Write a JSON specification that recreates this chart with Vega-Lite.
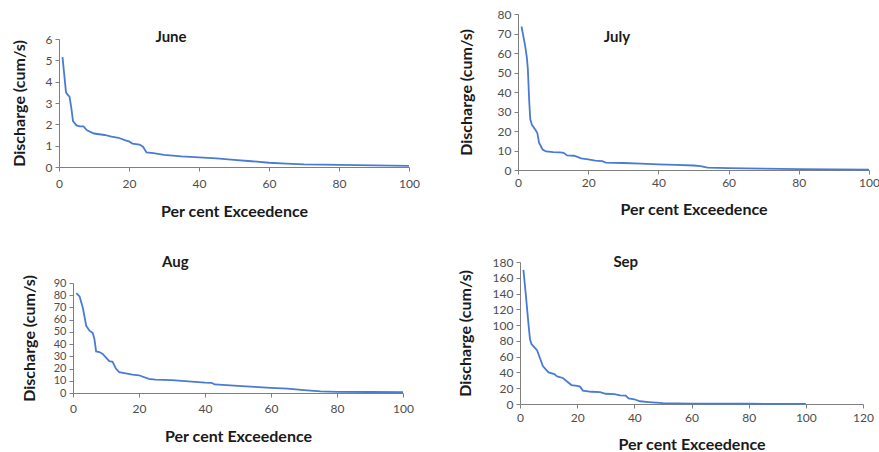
{
  "$schema": "https://vega.github.io/schema/vega-lite/v6.json",
  "padding": {"left": 11, "top": 8, "right": 0, "bottom": 0},
  "background": "white",
  "config": {
    "view": {"stroke": null},
    "font": "Lato",
    "axis": {"grid": false, "domainColor": "#7f7f7f", "tickColor": "#7f7f7f", "tickSize": 4, "labelColor": "#4d4d4d", "labelFontSize": 12, "labelFont": "Lato", "titleFont": "Lato", "titleFontSize": 16, "titleFontWeight": "bold", "titleColor": "#1a1a1a", "labelPadding": 3, "labelOverlap": false, "labelFlush": false},
    "axisX": {"titlePadding": 13},
    "axisY": {"titlePadding": 17},
    "line": {"color": "#4a7bd4", "strokeWidth": 1.8},
    "text": {"font": "Lato", "fontSize": 15, "fontWeight": "bold", "color": "#1a1a1a"}
  },
  "datasets": {
    "june": [
      {"p": 1, "q": 5.15}, {"p": 2, "q": 3.5}, {"p": 2.4, "q": 3.4}, {"p": 3, "q": 3.3}, {"p": 3.5, "q": 2.8}, {"p": 4, "q": 2.15},
      {"p": 5, "q": 1.95}, {"p": 6, "q": 1.9}, {"p": 7, "q": 1.9}, {"p": 8, "q": 1.72}, {"p": 10, "q": 1.57},
      {"p": 13, "q": 1.5}, {"p": 15, "q": 1.42}, {"p": 17, "q": 1.37}, {"p": 19, "q": 1.25}, {"p": 20, "q": 1.2},
      {"p": 21, "q": 1.1}, {"p": 23, "q": 1.05}, {"p": 24, "q": 0.95}, {"p": 25, "q": 0.68}, {"p": 27, "q": 0.65},
      {"p": 30, "q": 0.57}, {"p": 35, "q": 0.5}, {"p": 40, "q": 0.45}, {"p": 45, "q": 0.4}, {"p": 50, "q": 0.33},
      {"p": 55, "q": 0.27}, {"p": 60, "q": 0.2}, {"p": 65, "q": 0.16}, {"p": 70, "q": 0.12}, {"p": 80, "q": 0.1},
      {"p": 90, "q": 0.08}, {"p": 100, "q": 0.05}
    ],
    "july": [
      {"p": 1, "q": 73.6}, {"p": 2, "q": 64}, {"p": 2.5, "q": 58}, {"p": 2.8, "q": 52}, {"p": 3.2, "q": 35}, {"p": 3.5, "q": 26},
      {"p": 4, "q": 23}, {"p": 5, "q": 20.5}, {"p": 5.5, "q": 19}, {"p": 6, "q": 14}, {"p": 7, "q": 10.5},
      {"p": 8, "q": 9.5}, {"p": 10, "q": 9.2}, {"p": 12, "q": 9.0}, {"p": 13, "q": 8.8}, {"p": 14, "q": 7.5},
      {"p": 16, "q": 7.3}, {"p": 18, "q": 6}, {"p": 20, "q": 5.5}, {"p": 22, "q": 4.8}, {"p": 24, "q": 4.5},
      {"p": 25, "q": 3.8}, {"p": 30, "q": 3.6}, {"p": 35, "q": 3.3}, {"p": 40, "q": 2.9}, {"p": 45, "q": 2.6},
      {"p": 50, "q": 2.3}, {"p": 52, "q": 2.0}, {"p": 54, "q": 1.2}, {"p": 60, "q": 1.0}, {"p": 70, "q": 0.7},
      {"p": 80, "q": 0.5}, {"p": 90, "q": 0.3}, {"p": 100, "q": 0.2}
    ],
    "aug": [
      {"p": 1, "q": 81.8}, {"p": 2, "q": 79}, {"p": 3, "q": 69.5}, {"p": 4, "q": 55}, {"p": 5, "q": 51},
      {"p": 6, "q": 49}, {"p": 6.5, "q": 44}, {"p": 7, "q": 34}, {"p": 8, "q": 33.5}, {"p": 9, "q": 32},
      {"p": 10, "q": 29}, {"p": 11, "q": 26}, {"p": 12, "q": 25.5}, {"p": 13, "q": 20}, {"p": 14, "q": 17},
      {"p": 16, "q": 16}, {"p": 18, "q": 15}, {"p": 20, "q": 14.5}, {"p": 21, "q": 13.5}, {"p": 23, "q": 11.5},
      {"p": 25, "q": 11}, {"p": 30, "q": 10.5}, {"p": 35, "q": 9.5}, {"p": 40, "q": 8.5}, {"p": 42, "q": 8.3},
      {"p": 43, "q": 7}, {"p": 50, "q": 5.8}, {"p": 55, "q": 5}, {"p": 60, "q": 4.2}, {"p": 65, "q": 3.5},
      {"p": 70, "q": 2.3}, {"p": 75, "q": 1.3}, {"p": 80, "q": 1.0}, {"p": 90, "q": 0.8}, {"p": 100, "q": 0.6}
    ],
    "sep": [
      {"p": 1.2, "q": 170}, {"p": 2, "q": 140}, {"p": 3, "q": 100}, {"p": 3.5, "q": 82}, {"p": 4, "q": 76},
      {"p": 5, "q": 72}, {"p": 6, "q": 68}, {"p": 7, "q": 58}, {"p": 8, "q": 48}, {"p": 9, "q": 44},
      {"p": 10, "q": 40}, {"p": 12, "q": 38}, {"p": 13, "q": 35}, {"p": 15, "q": 33}, {"p": 17, "q": 27},
      {"p": 18, "q": 24}, {"p": 20, "q": 23}, {"p": 21, "q": 22}, {"p": 22, "q": 17}, {"p": 25, "q": 15.5},
      {"p": 28, "q": 15}, {"p": 30, "q": 13}, {"p": 33, "q": 12.5}, {"p": 35, "q": 11}, {"p": 37, "q": 10.5},
      {"p": 38, "q": 7}, {"p": 40, "q": 6}, {"p": 42, "q": 3.5}, {"p": 45, "q": 2.5}, {"p": 50, "q": 1.0},
      {"p": 60, "q": 0.5}, {"p": 80, "q": 0.3}, {"p": 100, "q": 0.2}
    ]
  },
  "spacing": 36,
  "vconcat": [
    {
      "spacing": 38,
      "hconcat": [
        {
          "width": 350, "height": 153,
          "layer": [
            {
              "data": {"name": "june"},
              "mark": "line",
              "encoding": {
                "x": {"field": "p", "type": "quantitative", "scale": {"domain": [0, 100], "nice": false}, "axis": {"values": [0, 20, 40, 60, 80, 100], "title": "Per cent Exceedence", "titlePadding": 14, "labelPadding": 7}},
                "y": {"field": "q", "type": "quantitative", "scale": {"domain": [0, 6], "nice": false, "range": [153, 25]}, "axis": {"values": [0, 1, 2, 3, 4, 5, 6], "title": "Discharge (cum/s)", "titlePadding": 18}}
              }
            },
            {
              "data": {"values": [{}]},
              "mark": {"type": "text", "baseline": "middle", "align": "center"},
              "encoding": {
                "x": {"datum": 32, "type": "quantitative", "axis": {"values": [0, 20, 40, 60, 80, 100], "title": "Per cent Exceedence", "titlePadding": 14, "labelPadding": 7}},
                "y": {"datum": 6.1, "type": "quantitative", "axis": {"values": [0, 1, 2, 3, 4, 5, 6], "title": "Discharge (cum/s)", "titlePadding": 18}},
                "text": {"value": "June"}
              }
            }
          ]
        },
        {
          "width": 351, "height": 156,
          "layer": [
            {
              "data": {"name": "july"},
              "mark": "line",
              "encoding": {
                "x": {"field": "p", "type": "quantitative", "scale": {"domain": [0, 100], "nice": false}, "axis": {"values": [0, 20, 40, 60, 80, 100], "title": "Per cent Exceedence"}},
                "y": {"field": "q", "type": "quantitative", "scale": {"domain": [0, 80], "nice": false}, "axis": {"values": [0, 10, 20, 30, 40, 50, 60, 70, 80], "title": "Discharge (cum/s)", "titlePadding": 23}}
              }
            },
            {
              "data": {"values": [{}]},
              "mark": {"type": "text", "baseline": "middle", "align": "center"},
              "encoding": {
                "x": {"datum": 28.2, "type": "quantitative", "axis": {"values": [0, 20, 40, 60, 80, 100], "title": "Per cent Exceedence"}},
                "y": {"datum": 68.2, "type": "quantitative", "axis": {"values": [0, 10, 20, 30, 40, 50, 60, 70, 80], "title": "Discharge (cum/s)", "titlePadding": 23}},
                "text": {"value": "July"}
              }
            }
          ]
        }
      ]
    },
    {
      "spacing": 43,
      "hconcat": [
        {
          "width": 344, "height": 131,
          "layer": [
            {
              "data": {"name": "aug"},
              "mark": "line",
              "encoding": {
                "x": {"field": "p", "type": "quantitative", "scale": {"domain": [0, 100], "nice": false, "range": [14, 344]}, "axis": {"values": [0, 20, 40, 60, 80, 100], "title": "Per cent Exceedence", "titlePadding": 14, "labelPadding": 6}},
                "y": {"field": "q", "type": "quantitative", "scale": {"domain": [0, 90], "nice": false, "range": [131, 21]}, "axis": {"values": [0, 10, 20, 30, 40, 50, 60, 70, 80, 90], "title": "Discharge (cum/s)", "titlePadding": 16, "offset": -14, "labelFontSize": 11}}
              }
            },
            {
              "data": {"values": [{}]},
              "mark": {"type": "text", "baseline": "middle", "align": "center"},
              "encoding": {
                "x": {"datum": 31, "type": "quantitative", "axis": {"values": [0, 20, 40, 60, 80, 100], "title": "Per cent Exceedence", "titlePadding": 14, "labelPadding": 6}},
                "y": {"datum": 107, "type": "quantitative", "axis": {"values": [0, 10, 20, 30, 40, 50, 60, 70, 80, 90], "title": "Discharge (cum/s)", "titlePadding": 16, "offset": -14, "labelFontSize": 11}},
                "text": {"value": "Aug"}
              }
            }
          ]
        },
        {
          "width": 343, "height": 142,
          "layer": [
            {
              "data": {"name": "sep"},
              "mark": "line",
              "encoding": {
                "x": {"field": "p", "type": "quantitative", "scale": {"domain": [0, 120], "nice": false}, "axis": {"values": [0, 20, 40, 60, 80, 100, 120], "title": "Per cent Exceedence", "titlePadding": 13, "labelPadding": 4}},
                "y": {"field": "q", "type": "quantitative", "scale": {"domain": [0, 180], "nice": false}, "axis": {"values": [0, 20, 40, 60, 80, 100, 120, 140, 160, 180], "title": "Discharge (cum/s)", "titlePadding": 19}}
              }
            },
            {
              "data": {"values": [{}]},
              "mark": {"type": "text", "baseline": "middle", "align": "center"},
              "encoding": {
                "x": {"datum": 37, "type": "quantitative", "axis": {"values": [0, 20, 40, 60, 80, 100, 120], "title": "Per cent Exceedence", "titlePadding": 13, "labelPadding": 4}},
                "y": {"datum": 180, "type": "quantitative", "axis": {"values": [0, 20, 40, 60, 80, 100, 120, 140, 160, 180], "title": "Discharge (cum/s)", "titlePadding": 19}},
                "text": {"value": "Sep"}
              }
            }
          ]
        }
      ]
    }
  ]
}
